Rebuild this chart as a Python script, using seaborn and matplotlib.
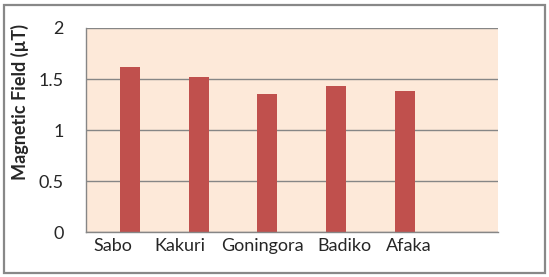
import numpy as np
import pandas as pd
import matplotlib.pyplot as plt
import seaborn as sns
from matplotlib.patches import Rectangle

# values
sites = ["Sabo", "Kakuri", "Goningora", "Badiko", "Afaka"]
field = [1.62, 1.52, 1.35, 1.43, 1.38]
blank = [0, 0, 0, 0, 0]  # empty first series that Excel leaves to the left of each bar
y_ticks = [0, 0.5, 1, 1.5, 2]
y_tick_labels = ["0", "0.5", "1", "1.5", "2"]

df = pd.DataFrame({
    "site": sites * 2,
    "value": blank + field,
    "series": ["blank"] * len(sites) + ["field"] * len(sites),
})

sns.set_style("white")
plt.rcParams["font.family"] = ["Lato", "DejaVu Sans"]

fig = plt.figure(figsize=(5.49, 2.77), dpi=100)
# grey frame round the chart, a few pixels in from the edge
fig.patches.append(Rectangle((4 / 549, 4 / 277), 541 / 549, 268 / 277,
                             transform=fig.transFigure, fill=False,
                             edgecolor="#888888", linewidth=1.6))

ax = fig.add_axes([0.156, 0.162, 0.751, 0.737])
ax.set_facecolor("#FDE9D9")

sns.barplot(data=df, x="site", y="value", hue="series", hue_order=["blank", "field"],
            order=sites, palette={"blank": "#C0504D", "field": "#C0504D"},
            saturation=1, width=0.58, gap=0, linewidth=0, legend=False, ax=ax)

ax.set_xlim(-0.5, 5.5)
ax.set_ylim(0, 2)
ax.set_yticks(y_ticks)
ax.set_yticklabels(y_tick_labels)
ax.yaxis.grid(True, color="#868686", linewidth=1)
ax.set_axisbelow(True)

# label positions in Excel drift a little from the slot centres
label_shift = [-0.1, -0.13, 0.08, 0.26, 0.2]
ax.set_xticks(np.arange(len(sites)) + np.array(label_shift))
ax.set_xticklabels(sites)

ax.tick_params(axis="y", length=5, color="#868686", width=1, pad=11, labelsize=13)
ax.tick_params(axis="x", length=0, pad=4, labelsize=13)

for side in ["top", "right"]:
    ax.spines[side].set_visible(False)
for side in ["left", "bottom"]:
    ax.spines[side].set_color("#868686")
    ax.spines[side].set_linewidth(1)

ax.set_xlabel("")
ax.set_ylabel("Magnetic Field (µT)", fontsize=13, fontweight="bold")
ax.yaxis.set_label_coords(-0.138, 0.635)

fig.savefig("out.png", dpi=100)
